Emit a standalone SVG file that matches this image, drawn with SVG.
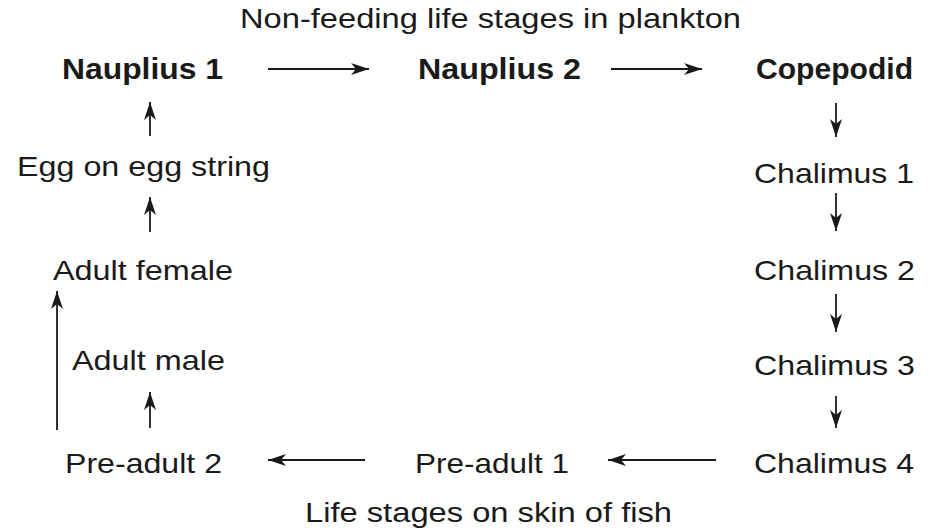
<svg xmlns="http://www.w3.org/2000/svg" width="932" height="531" viewBox="0 0 932 531">
<style>
  text { font-family: "Liberation Sans", Arial, sans-serif; fill: #1a1a1a; }
  .lbl { font-size: 28px; }
  .bold { font-size: 29px; font-weight: bold; }
  .cap { font-size: 27px; }
  .conn line { stroke: #1a1a1a; stroke-width: 1.8; fill: none; marker-end: url(#ah); }
</style>
<defs>
  <marker id="ah" markerUnits="userSpaceOnUse" markerWidth="22" markerHeight="16" viewBox="-20 -8 21 16" refX="0" refY="0" orient="auto">
    <path d="M0,0 L-18,-6 L-13,0 L-18,6 Z" fill="#1a1a1a"/>
  </marker>
</defs>
<rect width="932" height="531" fill="#ffffff"/>

<text class="cap" x="240" y="28" textLength="501" lengthAdjust="spacingAndGlyphs">Non-feeding life stages in plankton</text>
<text class="cap" x="305" y="522" textLength="367" lengthAdjust="spacingAndGlyphs">Life stages on skin of fish</text>

<g id="nauplius1"><text class="bold" x="62" y="79" textLength="161" lengthAdjust="spacingAndGlyphs">Nauplius 1</text></g>
<g id="nauplius2"><text class="bold" x="418" y="79" textLength="163" lengthAdjust="spacingAndGlyphs">Nauplius 2</text></g>
<g id="copepodid"><text class="bold" x="756" y="79" textLength="157" lengthAdjust="spacingAndGlyphs">Copepodid</text></g>
<g id="chalimus1"><text class="lbl" x="754" y="183" textLength="160" lengthAdjust="spacingAndGlyphs">Chalimus 1</text></g>
<g id="chalimus2"><text class="lbl" x="754" y="280" textLength="161" lengthAdjust="spacingAndGlyphs">Chalimus 2</text></g>
<g id="chalimus3"><text class="lbl" x="754" y="375" textLength="161" lengthAdjust="spacingAndGlyphs">Chalimus 3</text></g>
<g id="chalimus4"><text class="lbl" x="754" y="473" textLength="160" lengthAdjust="spacingAndGlyphs">Chalimus 4</text></g>
<g id="preadult1"><text class="lbl" x="415" y="473" textLength="154" lengthAdjust="spacingAndGlyphs">Pre-adult 1</text></g>
<g id="preadult2"><text class="lbl" x="65" y="473" textLength="157" lengthAdjust="spacingAndGlyphs">Pre-adult 2</text></g>
<g id="adultmale"><text class="lbl" x="72" y="370" textLength="153" lengthAdjust="spacingAndGlyphs">Adult male</text></g>
<g id="adultfemale"><text class="lbl" x="53" y="280" textLength="180" lengthAdjust="spacingAndGlyphs">Adult female</text></g>
<g id="egg"><text class="lbl" x="17" y="176" textLength="253" lengthAdjust="spacingAndGlyphs">Egg on egg string</text></g>

<g id="connectors" class="conn">
  <line x1="268" y1="69" x2="369" y2="69"/>
  <line x1="611" y1="69" x2="702" y2="69"/>
  <line x1="836" y1="103" x2="836" y2="137"/>
  <line x1="836" y1="193" x2="836" y2="231"/>
  <line x1="836" y1="294" x2="836" y2="332"/>
  <line x1="836" y1="396" x2="836" y2="428"/>
  <line x1="716" y1="460" x2="608" y2="460"/>
  <line x1="365" y1="460" x2="268" y2="460"/>
  <line x1="150" y1="428" x2="150" y2="392"/>
  <line x1="57" y1="430" x2="57" y2="291"/>
  <line x1="150" y1="232" x2="150" y2="197"/>
  <line x1="150" y1="136" x2="150" y2="102"/>
</g>
</svg>
